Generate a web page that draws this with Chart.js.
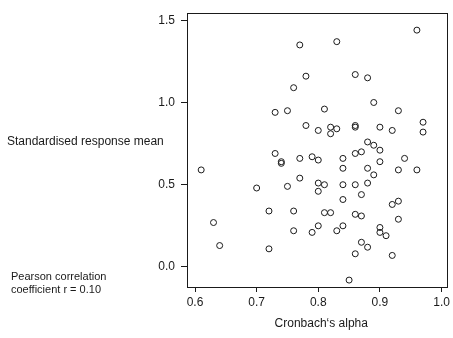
<!DOCTYPE html>
<html>
<head>
<meta charset="utf-8">
<script src="https://cdn.jsdelivr.net/npm/chart.js@4"></script>
<style>
  html, body { margin: 0; padding: 0; background: #fff; }
  #wrap { width: 453px; height: 338px; }
</style>
</head>
<body>
<div id="wrap"><canvas id="chart" width="453" height="338"></canvas></div>
<script>
// Cronbach's alpha (x) vs standardised response mean (y)
const alpha = [
  0.96, 0.77, 0.83, 0.78, 0.76, 0.86, 0.88, 0.89, 0.73, 0.75,
  0.81, 0.93, 0.97, 0.97, 0.78, 0.80, 0.82, 0.82, 0.83, 0.86,
  0.86, 0.90, 0.92, 0.88, 0.89, 0.90, 0.73, 0.74, 0.74, 0.77,
  0.79, 0.80, 0.84, 0.86, 0.87, 0.90, 0.94, 0.61, 0.84, 0.88,
  0.89, 0.93, 0.96, 0.77, 0.70, 0.75, 0.80, 0.81, 0.84, 0.86,
  0.88, 0.80, 0.87, 0.84, 0.92, 0.93, 0.72, 0.76, 0.81, 0.82,
  0.86, 0.87, 0.93, 0.63, 0.80, 0.84, 0.90, 0.76, 0.79, 0.83,
  0.90, 0.91, 0.64, 0.72, 0.87, 0.88, 0.86, 0.92, 0.85
];
const srm = [
  1.44, 1.35, 1.37, 1.16, 1.09, 1.17, 1.15, 1.00, 0.94, 0.95,
  0.96, 0.95, 0.88, 0.82, 0.86, 0.83, 0.85, 0.81, 0.84, 0.86,
  0.85, 0.85, 0.83, 0.76, 0.74, 0.71, 0.69, 0.64, 0.63, 0.66,
  0.67, 0.65, 0.66, 0.69, 0.70, 0.64, 0.66, 0.59, 0.60, 0.60,
  0.56, 0.59, 0.59, 0.54, 0.48, 0.49, 0.51, 0.50, 0.50, 0.50,
  0.51, 0.46, 0.44, 0.41, 0.38, 0.40, 0.34, 0.34, 0.33, 0.33,
  0.32, 0.31, 0.29, 0.27, 0.25, 0.25, 0.24, 0.22, 0.21, 0.22,
  0.21, 0.19, 0.13, 0.11, 0.15, 0.12, 0.08, 0.07, -0.08
];

const xTicks = [0.6, 0.7, 0.8, 0.9, 1.0];
const yTicks = [0.0, 0.5, 1.0, 1.5];

const xTitle = 'Cronbach\u2018s alpha';
const yTitle = 'Standardised response mean';
const noteLines = ['Pearson correlation', 'coefficient r = 0.10'];

const FONT = '"Liberation Sans", Arial, Helvetica, sans-serif';
const INK = '#1a1a1a';

// box around the plot region plus the free-standing texts
const frameAndText = {
  id: 'frameAndText',
  afterDraw(chart) {
    const { ctx, chartArea: a } = chart;
    ctx.save();
    ctx.strokeStyle = INK;
    ctx.lineWidth = 1;
    ctx.strokeRect(Math.round(a.left) + 0.5, Math.round(a.top) + 0.5,
      Math.round(a.right - a.left) - 1, Math.round(a.bottom - a.top));

    ctx.fillStyle = INK;
    ctx.textBaseline = 'middle';

    ctx.font = '12px ' + FONT;
    ctx.textAlign = 'left';
    ctx.fillText(yTitle, 7, 142);

    ctx.textAlign = 'center';
    ctx.fillText(xTitle, (a.left + a.right) / 2 + 4, 324);

    ctx.font = '11px ' + FONT;
    ctx.textAlign = 'left';
    ctx.fillText(noteLines[0], 11, 277);
    ctx.fillText(noteLines[1], 11, 289.5);
    ctx.restore();
  }
};

const ctx = document.getElementById('chart').getContext('2d');
new Chart(ctx, {
  type: 'scatter',
  data: {
    datasets: [{
      data: alpha.map((a, i) => ({ x: a, y: srm[i] })),
      pointStyle: 'circle',
      radius: 3,
      borderWidth: 1,
      borderColor: INK,
      backgroundColor: 'rgba(0,0,0,0)'
    }]
  },
  options: {
    responsive: false,
    animation: false,
    layout: { padding: { top: 5, right: 4, left: 0, bottom: 0 } },
    plugins: {
      legend: { display: false },
      tooltip: { enabled: false }
    },
    scales: {
      x: {
        type: 'linear',
        min: 0.587,
        max: 1.0097,
        afterBuildTicks: s => { s.ticks = xTicks.map(v => ({ value: v })); },
        afterFit: s => { s.height = 51; },
        grid: { drawOnChartArea: false, tickLength: 5, color: INK, tickColor: INK },
        border: { display: false },
        ticks: {
          padding: 3,
          color: INK,
          font: { family: FONT, size: 12 },
          maxRotation: 0,
          callback: v => v.toFixed(1)
        }
      },
      y: {
        type: 'linear',
        min: -0.122,
        max: 1.543,
        afterBuildTicks: s => { s.ticks = yTicks.map(v => ({ value: v })); },
        afterFit: s => { s.width = 187; },
        grid: { drawOnChartArea: false, tickLength: 6, color: INK, tickColor: INK },
        border: { display: false },
        ticks: {
          padding: 6,
          color: INK,
          font: { family: FONT, size: 12 },
          callback: v => v.toFixed(1)
        }
      }
    }
  },
  plugins: [frameAndText]
});
</script>
</body>
</html>
